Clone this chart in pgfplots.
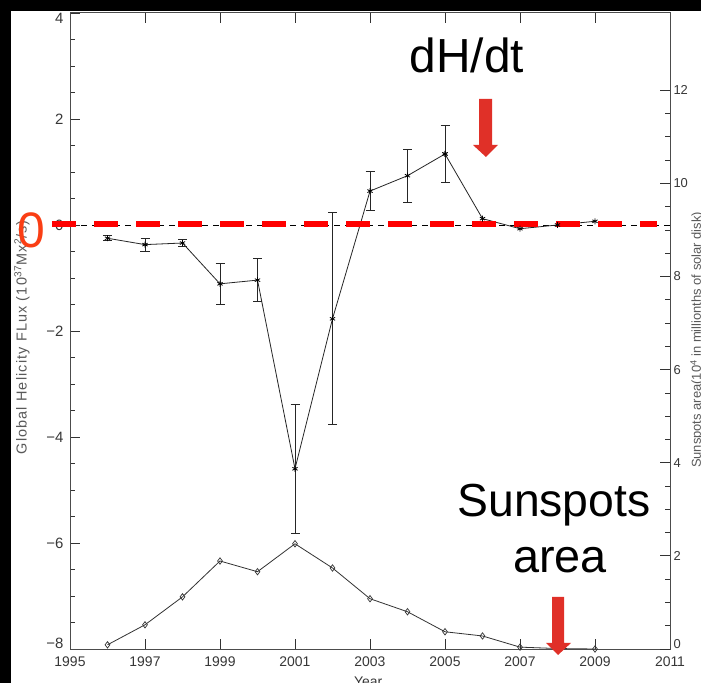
\documentclass[border=0pt]{standalone}
\usepackage{fontspec}
\setmainfont{Liberation Sans}
\usepackage{pgfplots}
\pgfplotsset{compat=1.18}

\definecolor{arrowred}{RGB}{224,48,40}
\definecolor{zerored}{RGB}{255,0,0}
\definecolor{zerotxt}{RGB}{250,62,20}
\definecolor{ticktxt}{RGB}{55,55,55}

% Global helicity flux per year with error bars (10^37 Mx^2/s)
\pgfplotstableread{
year   H      err
1996  -0.25   0.05
1997  -0.37   0.12
1998  -0.34   0.06
1999  -1.11   0.38
2000  -1.04   0.40
2001  -4.60   1.22
2002  -1.77   2.00
2003   0.64   0.37
2004   0.93   0.50
2005   1.34   0.54
}\helicityerr
% later years, no error estimate
\pgfplotstableread{
year   H
2005   1.34
2006   0.12
2007  -0.07
2008   0.00
2009   0.07
}\helicitylate
% Sunspot area (10^4 in millionths of solar disk)
\pgfplotstableread{
year   A
1996   0.09
1997   0.52
1998   1.12
1999   1.89
2000   1.66
2001   2.26
2002   1.74
2003   1.08
2004   0.80
2005   0.37
2006   0.28
2007   0.04
2008   0.01
2009   0.00
}\sunspots

\begin{document}
\begin{tikzpicture}
\useasboundingbox (0,0) rectangle (701bp,683bp);
\clip (0,0) rectangle (701bp,683bp);
\fill[black] (0,0) rectangle (701bp,683bp);
\fill[white] (11bp,0) rectangle (701bp,672bp);

\pgfplotsset{
  commonframe/.style={
    at={(70bp,34bp)}, anchor=south west,
    scale only axis, width=600bp, height=636bp,
    xmin=1995, xmax=2011,
    tick align=inside,
    major tick length=10bp, minor tick length=5bp,
    tick style={black!80, line width=0.8bp},
    axis line style={black!70, line width=1bp},
    /pgf/number format/.cd, 1000 sep={}, assume math mode=true,
  },
}

\begin{axis}[
  commonframe,
  ymin=-8, ymax=4,
  xtick={1995,1997,...,2011},
  ytick={-8,-6,...,4},
  yticklabels={\raisebox{0.5bp}[0pt][0pt]{−8},−6,−4,−2,0,2,\raisebox{-10.5bp}[0pt][0pt]{4}},
  minor y tick num=3,
  ytick pos=left,
  clip=false,
  xticklabel style={font=\fontsize{14}{14}\selectfont, text=ticktxt, yshift=-4bp},
  yticklabel style={font=\fontsize{15}{15}\selectfont, text=ticktxt, xshift=-3bp},
  xlabel={Year},
  xlabel style={at={(axis description cs:0.497,-0.044)}, anchor=north, inner sep=0pt,
    font=\fontsize{14}{14}\selectfont, text=ticktxt},
  ylabel={Global Helicity FLux (10\textsuperscript{37}Mx\textsuperscript{2}/s)},
  ylabel style={at={(axis description cs:-0.08,0.49)}, anchor=center, rotate=0,
    font=\fontsize{14.5}{14.5}\selectfont\addfontfeature{LetterSpace=8}, text=black!65},
]
  % thin dashed zero reference
  \addplot[black, line width=0.8bp, dash pattern=on 6bp off 5bp] coordinates {(1995,0) (2011,0)};
  % helicity flux with error bars
  \addplot[black!85, line width=0.8bp, mark=asterisk, mark size=3bp,
    mark options={solid, black, line width=0.8bp},
    error bars/.cd, y dir=both, y explicit,
    error bar style={black!85, line width=0.9bp},
    error mark=-,
    error mark options={rotate=90, black!85, mark size=4.5bp, line width=0.9bp}]
    table[x=year, y=H, y error=err] {\helicityerr};
  \addplot[black!85, line width=0.8bp, mark=asterisk, mark size=3bp,
    mark options={solid, black, line width=0.8bp}]
    table[x=year, y=H] {\helicitylate};
  % bold red zero line
  \draw[zerored, line width=6.5bp, dash pattern=on 24bp off 18bp]
    (axis cs:1994.52,0.02) -- (axis cs:2010.653,0.02);
\end{axis}

\begin{axis}[
  commonframe,
  ymin=0, ymax=13.66,
  axis x line=none, axis y line*=right,
  ytick={0,2,...,12},
  yticklabels={\raisebox{0.5bp}[0pt][0pt]{0},2,4,6,8,10,12},
  minor y tick num=3,
  yticklabel style={font=\fontsize{13}{13}\selectfont, text=ticktxt},
  ylabel={Sunspots area(10\textsuperscript{4} in millionths of solar disk)},
  ylabel style={at={(axis description cs:1.045,0.486)}, anchor=center, rotate=0,
    font=\fontsize{13}{13}\selectfont, text=black!65},
]
  \addplot[black!80, line width=0.8bp, mark=diamond, mark size=3.2bp,
    mark options={solid, fill=white, black!80, line width=0.7bp}]
    table[x=year, y=A] {\sunspots};
\end{axis}

% annotations
\begin{scope}[x=1bp, y=-1bp, yshift=683bp]
  \fill[arrowred] (479,99) -- (492,99) -- (492,145) -- (498,145) -- (486,157)
    -- (473,145) -- (479,145) -- cycle;
  \fill[arrowred] (552,597) -- (564,597) -- (564,643) -- (571,643) -- (558,655)
    -- (546,643) -- (552,643) -- cycle;
  \node[anchor=base, inner sep=0pt, font=\fontsize{48}{50}\selectfont] at (467,73) {dH/dt};
  \node[anchor=base, inner sep=0pt, font=\fontsize{46.5}{50}\selectfont] at (554,517) {Sunspots};
  \node[anchor=base, inner sep=0pt, font=\fontsize{47}{50}\selectfont] at (560,573) {area};
  \node[anchor=center, inner sep=0pt, text=zerotxt, font=\fontsize{50}{50}\selectfont] at (31,230) {0};
\end{scope}
\end{tikzpicture}
\end{document}
